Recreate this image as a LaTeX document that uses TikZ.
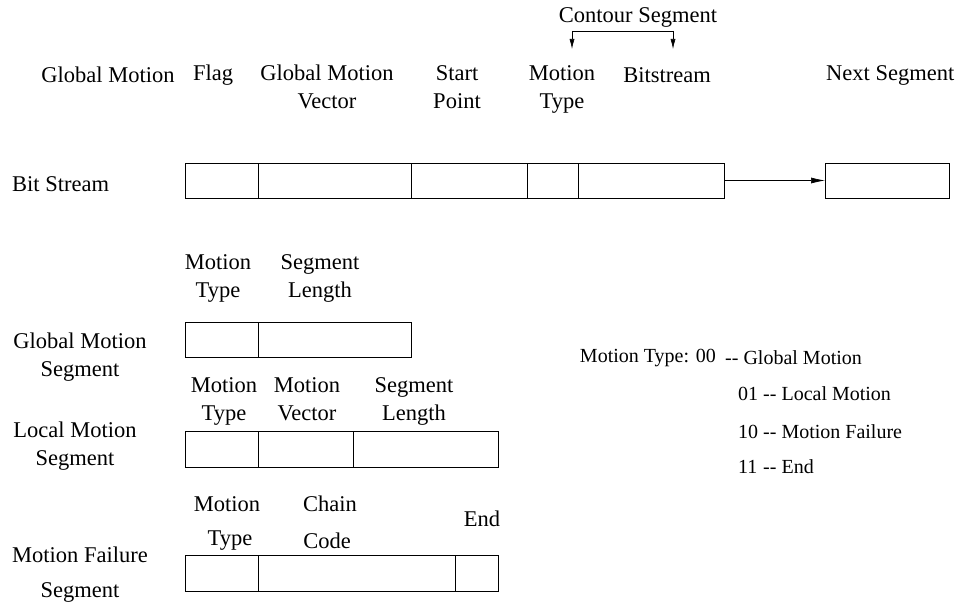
\documentclass[tikz,border=0pt]{standalone}
\usepackage{fontspec}
\setmainfont{Liberation Serif}
\usetikzlibrary{arrows.meta}
\begin{document}
\begin{tikzpicture}[x=1pt,y=-1pt,
 box/.style={draw,line width=0.6pt,inner sep=0,outer sep=0},
 t/.style={inner sep=0,font=\fontsize{22.5}{28}\selectfont,align=center},
 tl/.style={t,anchor=west,align=left},
 lg/.style={inner sep=0,font=\fontsize{20}{24}\selectfont,anchor=west}]
\useasboundingbox (0,0) rectangle (957,607);
% bit stream
\foreach \a/\b/\n in {185/258/b1,258/411/b2,411/527/b3,527/578/b4,578/724/b5,825/949/b6}
  \node[box,minimum width={\b-\a},minimum height=35] (\n) at ({(\a+\b)/2},180.5) {};
\draw[line width=0.6pt,-{Latex[length=14pt,width=6pt]}] (b5.east) -- (b6.west);
\node[tl] (bs) at (12,184) {Bit Stream};
\node[t] (l1) at (108,75) {Global Motion};
\node[t] (l2) at (213,75) {Flag};
\node[t,anchor=north] (l3) at (327,65) {Global Motion\\Vector};
\node[t,anchor=north] (l4) at (457,65) {Start\\Point};
\node[t,anchor=north] (l5) at (562,65) {Motion\\Type};
\node[t] (l6) at (667,75) {Bitstream};
\node[tl] (l7) at (826,75) {Next Segment};
\node[t] (cs) at (638,17) {Contour Segment};
\coordinate (c1) at (572,31); \coordinate (c2) at (673,31);
\coordinate (d1) at (572,49); \coordinate (d2) at (673,49);
\draw[line width=0.6pt,-{Latex[length=10pt,width=5pt]}] (c1) -- (d1);
\draw[line width=0.6pt,-{Latex[length=10pt,width=5pt]}] (c2) -- (d2);
\draw[line width=0.6pt] (c1) -- (c2);
% global motion segment
\foreach \a/\b/\n in {185/258/g1,258/411/g2}
  \node[box,minimum width={\b-\a},minimum height=35] (\n) at ({(\a+\b)/2},339.5) {};
\node[t,anchor=north] (g1l) at (218,254) {Motion\\Type};
\node[t,anchor=north] (g2l) at (320,254) {Segment\\Length};
\node[t,anchor=north] (gl) at (80,333) {Global Motion\\Segment};
% local
\foreach \a/\b/\n in {185/258/m1,258/353/m2,353/498/m3}
  \node[box,minimum width={\b-\a},minimum height=36] (\n) at ({(\a+\b)/2},449) {};
\node[t,anchor=north] (m1l) at (224,377) {Motion\\Type};
\node[t,anchor=north] (m2l) at (307,377) {Motion\\Vector};
\node[t,anchor=north] (m3l) at (414,377) {Segment\\Length};
\node[t,anchor=north] (ml) at (75,422) {Local Motion\\Segment};
% failure
\node[box,minimum width=73,minimum height=36] (f1) at (221.5,573) {};
\node[box,minimum width=197,minimum height=36] (f2) at (356.5,573) {};
\node[box,minimum width=43,minimum height=36] (f3) at (476.5,573) {};
\node[t] (f1a) at (227,504) {Motion};
\node[t] (f1b) at (230,541) {Type};
\node[t] (f2a) at (330,504) {Chain};
\node[t] (f2b) at (327,541) {Code};
\node[t] (f3l) at (482,519) {End};
\node[t] (fa) at (80,555) {Motion Failure};
\node[t] (fb) at (80,592) {Segment};
% legend
\node[lg,anchor=east] (k0) at (716,358) {Motion Type: 00};
\node[lg] (k0b) at (725,358) {{-}{-} Global Motion};
\node[lg] (k1) at (738,394) {01};
\node[lg] (k1b) at (763,394) {{-}{-} Local Motion};
\node[lg] (k2) at (738,432) {10};
\node[lg] (k2b) at (763,432) {{-}{-} Motion Failure};
\node[lg] (k3) at (738,467) {11};
\node[lg] (k3b) at (763,467) {{-}{-} End};
\end{tikzpicture}
\end{document}
